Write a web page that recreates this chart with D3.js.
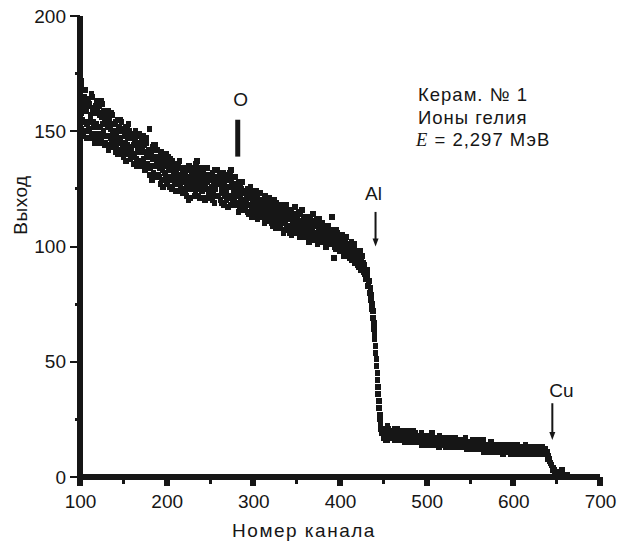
<!DOCTYPE html>
<html><head><meta charset="utf-8">
<script src="https://cdn.jsdelivr.net/npm/d3@7"></script>
<style>
html,body{margin:0;padding:0;background:#fff;}
svg{display:block;}
</style></head><body>
<svg id="chart" width="628" height="544"></svg>
<script>
const firstChannel = 100;
const yieldA = [
166,158,172,155,163,150,168,160,153,164,
151,162,157,148,165,154,160,149,158,163,
147,158,161,152,146,156,162,150,155,145,
156,144,153,159,148,151,143,157,150,146,
153,141,149,155,146,142,151,147,154,144,
139,150,145,152,141,147,153,143,138,149,
147,140,136,145,150,138,144,141,149,137,
135,146,141,138,144,133,147,139,136,142,
151,131,140,135,143,132,138,144,130,136,
139,130,136,127,141,133,129,137,132,140,
128,135,139,126,133,130,137,125,134,131,
136,124,131,128,134,137,126,130,123,133,
125,131,134,122,129,127,135,121,130,132,
134,127,122,131,136,125,129,133,121,128,
130,124,133,128,120,126,131,134,123,129,
121,129,126,132,124,119,130,127,133,122,
128,131,120,126,123,132,118,127,129,124,
131,117,126,122,133,128,119,125,121,130,
118,126,122,115,124,127,119,128,116,123,
123,116,121,125,118,114,122,126,117,120,
114,121,119,124,116,112,120,117,123,115,
119,113,117,110,122,115,118,112,121,116,
111,117,109,115,120,113,108,116,118,112,
115,108,113,117,110,106,114,111,118,109,
107,114,112,116,105,110,113,108,117,111,
112,106,115,109,104,111,116,107,113,105,
104,110,107,113,102,109,112,105,108,114,
109,103,111,106,101,108,112,104,107,110,
102,107,104,109,100,106,103,108,101,105,
106,113,101,95,104,99,107,102,105,100,
98,103,100,105,96,102,99,104,97,101,
100,95,99,102,94,97,101,93,98,96,
97,92,95,98,90,94,96,89,92,90,
88,90,86,84,85,81,79,75,72,67,
62,57,51,45,39,33,27,23,20,19,
20,17,21,19,16,22,18,20,17,19,
17,20,18,21,16,19,17,20,18,16,
19,16,20,17,18,15,20,19,16,18,
16,18,15,19,17,20,15,17,18,16,
18,15,17,16,19,14,17,18,15,16,
15,17,14,18,16,15,19,14,16,17,
16,14,17,15,13,18,15,16,14,17,
14,16,13,17,15,14,16,13,17,15,
16,13,15,17,14,16,13,15,14,16,
13,15,16,13,14,17,12,15,14,13,
15,12,14,16,13,14,12,15,13,16,
12,14,15,12,13,16,11,14,13,12,
14,12,13,11,15,12,14,11,13,14,
11,13,14,12,11,14,12,13,10,13,
13,11,12,14,11,13,12,10,14,12,
11,13,12,10,14,11,12,13,10,12,
13,11,10,12,14,11,13,10,12,11,
10,12,13,11,10,12,11,13,10,12,
12,10,11,13,10,11,12,10,11,10,
9,8,7,6,5,4,3,3,2,2,
2,2,1,1,1,1,3,1,1,1,
0,1,0,0,0];
const yieldB = [
156,169,151,162,148,165,154,159,147,161,
163,150,155,166,147,159,152,145,161,153,
160,149,145,157,163,148,153,159,144,156,
148,157,152,142,155,147,158,145,153,149,
145,154,143,150,140,152,145,155,141,150,
151,142,148,137,152,144,140,150,147,142,
140,149,144,139,146,135,148,142,137,145,
145,137,143,148,136,141,134,145,139,135,
140,134,142,129,138,144,131,139,135,142,
131,138,134,140,129,136,126,135,139,130,
136,127,133,130,138,129,125,136,132,127,
127,133,129,136,124,131,134,125,132,128,
131,124,130,126,133,120,128,134,125,129,
126,133,130,124,127,137,122,131,126,134,
124,132,126,121,130,134,125,128,121,131,
129,123,131,120,127,133,125,122,129,127,
122,127,130,124,119,128,131,122,126,120,
126,129,121,132,118,126,130,123,127,119,
125,119,124,128,117,121,125,118,123,120,
117,124,119,122,115,121,124,118,113,121,
120,115,122,117,113,121,118,114,120,117,
114,119,116,121,113,118,111,117,119,114,
116,110,118,113,117,111,119,114,110,115,
110,116,111,114,118,107,113,116,109,112,
113,109,106,112,115,110,107,114,110,106,
108,113,110,105,114,108,111,106,112,109,
111,106,109,104,112,107,103,110,106,109,
105,110,106,112,104,109,105,110,103,106,
108,103,106,101,107,104,109,102,106,103,
101,105,102,107,100,104,101,106,99,103,
102,99,104,98,101,97,103,99,100,96,
97,100,95,98,101,96,99,94,97,95,
93,96,91,94,92,95,90,93,89,88,
86,87,83,85,80,82,77,73,69,64,
60,54,48,42,36,30,25,21,19,21,
18,21,19,16,20,18,21,17,19,20,
19,17,20,16,19,18,21,17,19,17,
17,19,16,18,20,17,19,16,18,20,
18,16,19,17,15,18,16,19,16,18,
16,18,15,17,14,17,16,15,18,17,
17,14,16,15,18,16,14,17,15,16,
14,16,15,17,15,14,16,17,15,14,
16,14,15,13,16,15,17,14,15,16,
14,15,16,14,13,15,16,14,15,13,
15,14,13,15,16,13,14,15,13,14,
13,14,15,13,12,15,14,13,14,12,
14,13,12,14,15,12,13,14,12,13,
12,13,14,12,13,11,13,14,12,11,
13,12,11,13,14,12,11,13,12,14,
12,13,11,12,13,11,13,12,11,13,
12,11,13,12,11,13,11,12,13,11,
11,12,13,11,12,10,12,11,13,12,
12,11,10,12,11,13,10,12,11,10,
11,12,10,11,12,10,11,12,10,11,
8,8,7,6,5,4,4,3,2,2,
2,1,2,1,1,2,1,3,1,1,
0,0,1,0,0];

const xMajorTicks = [100,200,300,400,500,600,700];
const xMinorTicks = [150,250,350,450,550,650];
const yMajorTicks = [0,50,100,150,200];
const yMinorTicks = [25,75,125,175];
const peakLabels = ["O","Al","Cu"];
const peakChannels = [282,441,645];
const peakTops = [155,115,32];
const peakBottoms = [139,100,16];
const infoLines = ["Керам. № 1","Ионы гелия"];
const energySymbol = "E";
const energyText = " = 2,297 МэВ";
const xTitle = "Номер канала";
const yTitle = "Выход";

const ink = "#161616";
const sans = "'Liberation Sans', Arial, Helvetica, sans-serif";
const svg = d3.select("#chart");
const x = d3.scaleLinear().domain([100,700]).range([80,600]);
const y = d3.scaleLinear().domain([0,200]).range([477,16]);

// data points
const pts = [];
yieldA.forEach((v,i)=>pts.push([firstChannel+i, v]));
yieldB.forEach((v,i)=>pts.push([firstChannel+i, v]));
svg.append("g").attr("shape-rendering","crispEdges").selectAll("rect").data(pts).join("rect")
  .attr("x", d=>x(d[0])-2.75).attr("y", d=>y(d[1])-3)
  .attr("width",5.5).attr("height",6).attr("fill",ink);

// X axis labels
const gx = svg.append("g").attr("transform",`translate(0,${y(0)})`)
  .call(d3.axisBottom(x).tickValues(xMajorTicks).tickSize(0).tickPadding(18).tickFormat(d3.format("d")));
gx.attr("font-family", sans).attr("font-size", 19);
gx.select(".domain").remove();
gx.selectAll(".tick line").remove();
gx.selectAll(".tick text").attr("fill",ink);

// Y axis labels
const gy = svg.append("g").attr("transform",`translate(${x(100)},0)`)
  .call(d3.axisLeft(y).tickValues(yMajorTicks).tickSize(0).tickPadding(14).tickFormat(d3.format("d")));
gy.attr("font-family", sans).attr("font-size", 19);
gy.select(".domain").remove();
gy.selectAll(".tick line").remove();
gy.selectAll(".tick text").attr("fill",ink);

const axisG = svg.append("g").attr("fill", ink).attr("shape-rendering","crispEdges");
// axis bars
axisG.append("rect").attr("x",x(100)-3).attr("y",y(0)-3).attr("width",x(700)-x(100)+3).attr("height",6);
axisG.append("rect").attr("x",x(100)-3).attr("y",y(200)).attr("width",6).attr("height",y(0)-y(200)+4);
// x ticks
axisG.selectAll(".xmaj").data(xMajorTicks).join("rect")
  .attr("x",d=>x(d)-3).attr("y",y(0)).attr("width",6).attr("height",9);
axisG.selectAll(".xmin").data(xMinorTicks).join("rect")
  .attr("x",d=>x(d)-1.5).attr("y",y(0)).attr("width",3).attr("height",7);
// y ticks
axisG.selectAll(".ymaj").data(yMajorTicks).join("rect")
  .attr("x",x(100)-10).attr("y",d=>y(d)-1).attr("width",10).attr("height",2);
axisG.selectAll(".ymin").data(yMinorTicks).join("rect")
  .attr("x",x(100)-5.5).attr("y",d=>y(d)-1.5).attr("width",5.5).attr("height",3);

// titles
svg.append("text").attr("x",304).attr("y",537).attr("text-anchor","middle")
  .attr("font-family",sans).attr("font-size",19).attr("letter-spacing",1.5).attr("fill",ink).text(xTitle);
svg.append("text").attr("transform","translate(27,205) rotate(-90)").attr("text-anchor","middle")
  .attr("font-family",sans).attr("font-size",19).attr("letter-spacing",0.5).attr("fill",ink).text(yTitle);

// info text
infoLines.forEach((t,i)=>{
  svg.append("text").attr("x",418).attr("y",101+i*22.5)
    .attr("font-family",sans).attr("font-size",18.5).attr("letter-spacing",1).attr("fill",ink).text(t);
});
const et = svg.append("text").attr("x",416).attr("y",146).attr("font-size",18.5).attr("letter-spacing",1).attr("fill",ink);
et.append("tspan").attr("font-family","'Liberation Serif','Times New Roman',serif").attr("font-style","italic").text(energySymbol);
et.append("tspan").attr("font-family",sans).text(energyText);

// peak markers
const labelDx = [3, -2, 9];
const labelGap = [14, 12, 6];
peakLabels.forEach((lab,i)=>{
  const cx = x(peakChannels[i]);
  const yt = y(peakTops[i]), yb = y(peakBottoms[i]);
  if (i === 0) {
    svg.append("rect").attr("x",cx-2.5).attr("y",yt).attr("width",5).attr("height",yb-yt).attr("fill",ink);
  } else {
    svg.append("rect").attr("x",cx-1).attr("y",yt).attr("width",2).attr("height",yb-yt-5).attr("fill",ink);
    svg.append("path").attr("d",`M${cx-3},${yb-8}L${cx+3},${yb-8}L${cx},${yb}Z`).attr("fill",ink);
  }
  svg.append("text").attr("x",cx+labelDx[i]).attr("y",yt-labelGap[i]).attr("text-anchor","middle")
    .attr("font-family",sans).attr("font-size",19).attr("fill",ink).text(lab);
});
</script>
</body></html>
